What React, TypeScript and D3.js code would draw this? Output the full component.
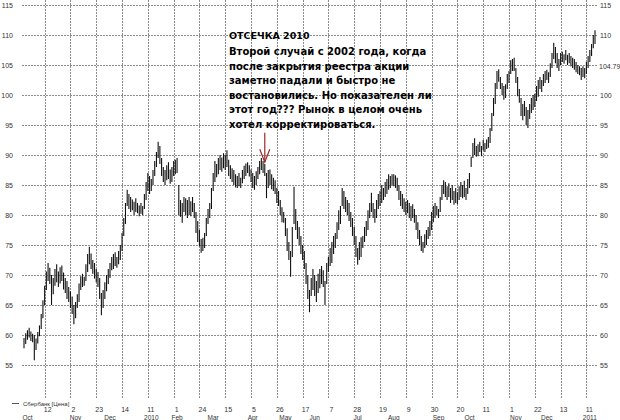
import { useEffect, useRef } from "react";
import * as d3 from "d3";

// Сбербанк, daily bars (low / high), ~Sep 2009 .. Jan 2011
const lows = [
  57.8, 58.5, 59.2, 59.6, 59.0, 58.8, 55.8, 57.5, 58.6, 59.8,
  61.0, 62.8, 65.0, 67.5, 69.0, 68.5, 65.0, 66.8, 68.2, 68.8,
  68.0, 68.6, 69.0, 67.6, 67.0, 66.0, 65.5, 64.5, 63.5, 61.8,
  62.8, 64.5, 65.5, 67.5, 68.0, 68.2, 69.0, 70.5, 71.8, 71.0,
  70.2, 69.4, 68.8, 68.0, 66.0, 63.3, 64.5, 66.0, 67.3, 68.5,
  69.5, 70.8, 71.0, 71.5, 71.2, 71.8, 72.5, 74.0, 76.5, 78.5,
  81.5, 81.0, 80.5, 80.8, 80.0, 80.5, 80.3, 79.8, 80.2, 80.0,
  81.0, 82.5, 84.0, 83.5, 84.0, 85.0, 86.5, 88.0, 89.5, 88.5,
  86.5, 85.5, 85.0, 85.8, 86.0, 85.2, 85.5, 86.5, 86.8, 87.0,
  80.0, 79.7, 78.7, 80.5, 80.0, 79.5, 80.0, 79.8, 80.5, 79.5,
  77.0, 75.5, 74.8, 73.7, 74.0, 74.5, 76.5, 78.5, 79.5, 81.0,
  84.0, 85.5, 86.3, 86.8, 87.5, 87.2, 87.8, 87.5, 88.0, 86.5,
  86.0, 85.5, 85.0, 84.6, 84.5, 84.8, 84.5, 85.3, 86.0, 86.5,
  87.0, 86.4, 85.5, 84.5, 84.2, 85.0, 86.0, 86.8, 87.5, 87.0,
  86.5, 82.8, 84.5, 85.0, 84.3, 84.0, 83.5, 82.0, 81.5, 80.0,
  78.8, 78.7, 76.5, 74.0, 72.5, 69.7, 73.0, 78.5, 77.5, 76.0,
  75.0, 73.5, 72.5, 71.0, 68.5, 66.0, 63.8, 66.5, 67.5, 66.5,
  65.5, 67.0, 67.8, 68.5, 68.0, 65.0, 68.5, 70.5, 71.5, 72.0,
  73.5, 74.5, 76.0, 77.5, 78.5, 81.5, 81.0, 80.5, 80.0, 79.0,
  78.0, 76.5, 75.0, 73.0, 71.7, 72.5, 73.0, 74.5, 75.5, 76.5,
  77.5, 79.5, 80.5, 79.5, 78.7, 79.5, 81.0, 81.5, 82.0, 82.5,
  83.0, 83.5, 84.2, 84.5, 85.0, 84.8, 84.5, 84.0, 82.5, 81.5,
  81.0, 80.5, 80.0, 80.3, 79.5, 79.0, 79.5, 78.7, 77.5, 76.0,
  75.0, 74.0, 73.7, 74.5, 75.0, 76.0, 76.5, 77.5, 78.8, 79.5,
  80.0, 79.5, 80.5, 82.5, 83.5, 83.0, 82.5, 83.0, 82.0, 82.5,
  81.7, 82.0, 81.8, 82.5, 83.0, 82.8, 83.0, 82.5, 83.5, 84.5,
  88.0, 89.5, 90.0, 89.7, 89.8, 90.5, 89.8, 90.8, 90.5, 91.0,
  91.2, 92.0, 94.0, 96.5, 98.5, 101.0, 102.2, 101.0, 100.0, 99.2,
  99.5, 101.0, 102.0, 103.5, 104.0, 104.0, 102.0, 99.8, 98.7, 96.5,
  95.8, 96.5, 95.0, 94.5, 96.0, 97.0, 97.5, 98.0, 99.0, 99.7,
  101.0, 100.5, 101.5, 102.0, 102.5, 102.0, 103.0, 104.5, 106.0, 105.3,
  104.5, 104.0, 105.0, 105.5, 105.2, 105.8, 105.0, 105.3, 104.8, 104.5,
  104.2, 103.8, 103.5, 103.3, 102.5, 103.0, 102.8, 103.5, 104.5, 105.5,
  106.5, 107.8, 108.5,
];

const highs = [
  59.5, 60.3, 60.8, 61.2, 60.6, 60.2, 60.0, 59.4, 60.5, 61.6,
  63.5, 65.8, 68.2, 70.6, 72.0, 71.2, 70.0, 69.5, 71.0, 71.8,
  70.6, 71.3, 71.6, 70.4, 69.5, 69.0, 68.0, 67.3, 66.4, 65.0,
  65.5, 66.8, 68.6, 69.8, 70.2, 69.7, 71.8, 73.5, 74.7, 73.6,
  72.5, 72.0, 71.0, 70.5, 69.5, 67.0, 67.5, 68.8, 70.0, 71.0,
  72.0, 73.0, 73.5, 73.8, 73.0, 74.0, 75.0, 77.0, 79.5, 82.0,
  84.2, 83.5, 83.0, 82.6, 82.2, 82.8, 82.0, 81.6, 82.0, 81.5,
  83.5, 85.5, 87.0, 86.5, 86.0, 87.5, 89.0, 90.5, 92.2, 91.5,
  89.5, 88.0, 87.5, 88.3, 88.8, 87.6, 88.0, 89.0, 89.2, 89.5,
  85.0, 82.5, 82.0, 83.0, 82.8, 82.5, 83.0, 82.3, 83.0, 82.0,
  80.5, 79.0, 77.5, 76.0, 76.2, 77.0, 79.5, 81.0, 82.0, 84.5,
  87.0, 89.0, 88.5, 89.5, 90.0, 89.6, 90.3, 90.0, 90.8, 89.2,
  88.3, 87.8, 87.5, 86.8, 86.5, 87.0, 86.2, 87.5, 88.2, 88.6,
  88.8, 88.3, 87.6, 87.0, 86.5, 87.3, 88.0, 89.0, 89.5, 89.0,
  88.5, 87.0, 87.5, 87.6, 86.8, 86.2, 85.8, 84.5, 84.0, 82.5,
  81.3, 80.5, 79.5, 77.8, 75.5, 74.0, 78.0, 84.7, 81.0, 79.0,
  78.0, 76.5, 75.0, 74.0, 72.0, 70.0, 67.5, 69.5, 71.0, 70.0,
  69.0, 70.2, 71.0, 71.5, 70.8, 69.0, 72.0, 73.0, 74.5, 75.5,
  76.5, 77.0, 78.8, 80.8, 81.5, 84.5, 84.0, 83.0, 82.5, 82.0,
  80.5, 79.5, 78.0, 76.5, 74.5, 75.5, 76.3, 76.5, 78.0, 79.0,
  80.8, 82.0, 83.7, 82.0, 81.0, 82.5, 83.5, 84.0, 85.0, 84.5,
  85.5, 86.0, 86.8, 86.5, 86.8, 86.8, 86.6, 86.2, 85.0, 84.0,
  83.5, 82.8, 82.2, 82.5, 82.0, 81.5, 81.8, 81.0, 80.0, 78.8,
  77.5, 76.5, 75.5, 76.8, 77.5, 78.0, 79.0, 80.5, 81.5, 82.0,
  81.5, 81.0, 83.0, 85.0, 85.8, 85.5, 84.8, 85.3, 84.5, 85.0,
  84.0, 84.5, 83.8, 84.8, 85.5, 85.0, 85.7, 84.5, 86.0, 87.0,
  89.7, 92.0, 92.8, 91.5, 91.8, 92.2, 91.5, 92.5, 92.0, 92.6,
  93.0, 94.5, 97.0, 99.5, 102.0, 104.0, 104.3, 103.0, 102.0, 101.5,
  101.8, 103.5, 104.0, 105.8, 106.0, 106.2, 104.5, 103.0, 101.0, 99.5,
  98.5, 99.0, 98.0, 97.5, 98.5, 99.5, 100.0, 100.2, 101.5, 102.5,
  103.0, 102.5, 103.5, 104.0, 104.2, 103.8, 105.3, 107.0, 108.7, 108.0,
  107.0, 106.0, 107.0, 107.2, 106.8, 107.5, 106.7, 107.0, 106.5, 106.2,
  106.0, 105.5, 105.0, 104.8, 104.5, 104.8, 104.5, 105.5, 106.5, 107.5,
  108.5, 110.0, 110.8,
];

// day ticks: every 15 trading days starting at bar 12
const dayLabels = ["12", "2", "23", "14", "11", "1", "24", "15", "5", "26", "17",
  "7", "28", "19", "9", "30", "20", "11", "1", "22", "13", "11"];
const monthLabels = ["Oct", "Nov", "Dec", "2010", "Feb", "Mar", "Apr", "May", "Jun",
  "Jul", "Aug", "Sep", "Oct", "Nov", "Dec", "2011"];
const monthBars = [2, 30, 50, 74, 89, 110, 133, 152, 169, 194, 215, 241, 259, 286, 304, 329];
const priceTicks = [115, 110, 105, 100, 95, 90, 85, 80, 75, 70, 65, 60, 55];
const lastMark = 104.79;

const noteTitle = "ОТСЕЧКА 2010";
const noteLines = [
  "Второй случай с 2002 года, когда",
  "после закрытия реестра акции",
  "заметно падали и быстро не",
  "востановились. Но показателен ли",
  "этот год??? Рынок в целом очень",
  "хотел корректироваться.",
];
const arrowBar = 140;
const arrowFrom = 93.7;
const arrowTo = 88.8;

const W = 620, H = 420;
const font = "'Liberation Sans', Arial, sans-serif";
const noteFont = "'DejaVu Sans', sans-serif";

function drawChart(svgEl: SVGSVGElement) {
  const svg = d3.select(svgEl);
  svg.selectAll("*").remove();

  const x = d3.scaleLinear().domain([0, highs.length - 1]).range([24, 595]);
  const y = d3.scaleLinear().domain([55, 115]).range([365, 5]);
  const grid = "#8c8c8c";

  // horizontal grid
  svg.append("g").selectAll("line")
    .data(priceTicks)
    .join("line")
    .attr("x1", 22).attr("x2", 597)
    .attr("y1", d => Math.round(y(d)) + 0.5)
    .attr("y2", d => Math.round(y(d)) + 0.5)
    .attr("stroke", grid)
    .attr("stroke-dasharray", "2,1");

  // vertical grid
  const tickBars = dayLabels.map((_, i) => 12 + i * 15);
  svg.append("g").selectAll("line")
    .data(tickBars)
    .join("line")
    .attr("x1", d => Math.round(x(d)) + 0.5)
    .attr("x2", d => Math.round(x(d)) + 0.5)
    .attr("y1", 0).attr("y2", 398)
    .attr("stroke", grid)
    .attr("stroke-dasharray", "2,1");

  // left axis labels
  svg.append("g").selectAll("text")
    .data(priceTicks)
    .join("text")
    .attr("x", 13).attr("y", d => y(d) + 2.5)
    .attr("text-anchor", "end")
    .attr("font-family", font).attr("font-size", 7)
    .attr("fill", "#333")
    .text(d => d);

  // right axis labels
  const rightTicks = priceTicks.filter(d => d !== 105);
  svg.append("g").selectAll("text")
    .data(rightTicks)
    .join("text")
    .attr("x", 600).attr("y", d => y(d) + 2.5)
    .attr("font-family", font).attr("font-size", 7)
    .attr("fill", "#333")
    .text(d => d);
  svg.append("text")
    .attr("x", 599).attr("y", y(lastMark) + 2.5)
    .attr("font-family", font).attr("font-size", 7)
    .attr("fill", "#333")
    .text(lastMark.toFixed(2));

  // bars
  svg.append("g").selectAll("line")
    .data(highs)
    .join("line")
    .attr("x1", (d, i) => x(i)).attr("x2", (d, i) => x(i))
    .attr("y1", d => y(d))
    .attr("y2", (d, i) => y(lows[i]))
    .attr("stroke", "#111")
    .attr("stroke-width", 1.1);

  // bottom labels
  svg.append("g").selectAll("text")
    .data(dayLabels)
    .join("text")
    .attr("x", (d, i) => x(tickBars[i]) + 3)
    .attr("y", 412)
    .attr("text-anchor", "middle")
    .attr("font-family", font).attr("font-size", 7)
    .attr("fill", "#333")
    .text(d => d);
  svg.append("g").selectAll("text")
    .data(monthLabels)
    .join("text")
    .attr("x", (d, i) => x(monthBars[i]))
    .attr("y", 419.5)
    .attr("text-anchor", "middle")
    .attr("font-family", font).attr("font-size", 6.5)
    .attr("fill", "#333")
    .text(d => d);

  // legend
  svg.append("line")
    .attr("x1", 12).attr("x2", 19)
    .attr("y1", 403.5).attr("y2", 403.5)
    .attr("stroke", "#555");
  svg.append("text")
    .attr("x", 23).attr("y", 405.5)
    .attr("font-family", font).attr("font-size", 6)
    .attr("fill", "#333")
    .text("Сбербанк [Цена]");

  // arrow
  const ax = x(arrowBar);
  const a1 = y(arrowFrom), a2 = y(arrowTo);
  const red = "#9e2a2a";
  svg.append("line")
    .attr("x1", ax).attr("x2", ax).attr("y1", a1).attr("y2", a2)
    .attr("stroke", red).attr("stroke-width", 1.2);
  svg.append("path")
    .attr("d", `M${ax - 5},${a2 - 13}L${ax},${a2}L${ax + 5},${a2 - 13}`)
    .attr("fill", "none").attr("stroke", red).attr("stroke-width", 1.2);

  // annotation
  svg.append("text")
    .attr("x", 229).attr("y", 39)
    .attr("font-family", noteFont).attr("font-weight", "bold").attr("font-size", 9.5)
    .attr("fill", "#000")
    .text(noteTitle);
  svg.append("g").selectAll("text")
    .data(noteLines)
    .join("text")
    .attr("x", 229).attr("y", (d, i) => 55 + i * 14.5)
    .attr("font-family", noteFont).attr("font-weight", "bold")
    .attr("font-size", 10)
    .attr("fill", "#000")
    .text(d => d);
}

export default function App() {
  const svgRef = useRef<SVGSVGElement>(null);
  useEffect(() => {
    if (svgRef.current) drawChart(svgRef.current);
  }, []);
  return (
    <svg
      ref={svgRef}
      width={W}
      height={H}
      style={{ position: "absolute", left: 0, top: 0, background: "#fff" }}
    />
  );
}
